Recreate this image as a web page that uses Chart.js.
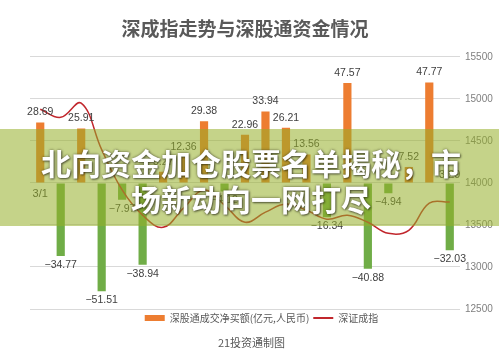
<!DOCTYPE html>
<html>
<head>
<meta charset="utf-8">
<script src="https://cdn.jsdelivr.net/npm/chart.js@4.4.0/dist/chart.umd.min.js"></script>
<style>
html,body{margin:0;padding:0;background:#fff;}
#wrap{position:relative;width:499px;height:358px;overflow:hidden;}
canvas{display:block;}
#band{position:absolute;left:0;top:129px;width:499px;height:97px;background:rgba(150,175,40,0.55);}
#banner{position:absolute;left:0;top:144px;width:502px;text-align:center;color:#fff;
  font-family:"Noto Sans CJK SC","Noto Sans",sans-serif;font-weight:bold;font-size:30px;line-height:36px;
  text-shadow:0 0 3px rgba(60,60,30,0.75),1px 1px 2px rgba(0,0,0,0.5);}
#credit{position:absolute;left:0;top:334px;width:503px;text-align:center;color:#595959;
  font-family:"Noto Sans CJK SC",sans-serif;font-size:11px;line-height:16px;}
</style>
</head>
<body>
<div id="wrap">
  <canvas id="c" width="499" height="358"></canvas>
  <div id="band"></div>
  <div id="banner">北向资金加仓股票名单揭秘，市<br>场新动向一网打尽</div>
  <div id="credit">21投资通制图</div>
</div>
<script>
const chartTitle = '深成指走势与深股通资金情况';
const seriesNames = ['深股通成交净买额(亿元,人民币)', '深证成指'];
const categories = ['3/1','3/2','3/3','3/4','3/5','3/8','3/9','3/10','3/11','3/12','3/15','3/16','3/17','3/18','3/19','3/22','3/23','3/24','3/25','3/26','3/29'];
const netBuy = [28.69,-34.77,25.91,-51.51,-7.97,-38.94,5.27,12.36,29.38,-4.12,22.96,33.94,26.21,13.56,-16.34,47.57,-40.88,-4.94,7.52,47.77,-32.03];
const szIndex = [14876,14780,14948,14396,13916,13616,13472,13700,13916,13736,13532,13652,13748,13676,13568,13616,13532,13400,13436,13760,13772];
const leftTicks = [-60,-40,-20,0,20,40,60];
const rightTicks = [12500,13000,13500,14000,14500,15000,15500];

const ORANGE = '#ed7d31', GREEN = '#70ad47', RED = '#c1272d', GREY = '#595959';

const labelPlugin = {
  id: 'barLabels',
  afterDatasetsDraw(chart) {
    const ctx = chart.ctx;
    const meta = chart.getDatasetMeta(0);
    ctx.save();
    ctx.font = '10.5px "Liberation Sans", Arial, sans-serif';
    ctx.fillStyle = '#404040';
    ctx.textAlign = 'center';
    ctx.textBaseline = 'middle';
    meta.data.forEach((bar, i) => {
      const v = netBuy[i];
      const txt = (v < 0 ? '\u2212' : '') + Math.abs(v).toFixed(2);
      ctx.fillText(txt, bar.x, v >= 0 ? bar.y - 10 : bar.y + 9);
    });
    const xs = chart.scales.x, ys = chart.scales.y;
    const zero = ys.getPixelForValue(0);
    const n = categories.length;
    ctx.font = '11px "Liberation Sans", Arial, sans-serif';
    ctx.fillText(categories[0], xs.getPixelForValue(0), zero + 11);
    ctx.fillText(categories[n - 1], xs.getPixelForValue(n - 1), zero - 8);
    ctx.restore();
  }
};

new Chart(document.getElementById('c'), {
  data: {
    labels: categories,
    datasets: [
      {
        type: 'bar',
        label: seriesNames[0],
        data: netBuy,
        yAxisID: 'y',
        order: 2,
        backgroundColor: netBuy.map(v => v >= 0 ? ORANGE : GREEN),
        barPercentage: 0.4,
        categoryPercentage: 1.0
      },
      {
        type: 'line',
        label: seriesNames[1],
        data: szIndex,
        yAxisID: 'y1',
        order: 1,
        borderColor: RED,
        backgroundColor: RED,
        borderWidth: 1.5,
        pointRadius: 0,
        tension: 0.4,
        fill: false
      }
    ]
  },
  options: {
    responsive: false,
    animation: false,
    layout: { padding: { left: 24, right: 0, top: 0, bottom: 25 } },
    plugins: {
      tooltip: { enabled: false },
      title: {
        display: true,
        text: chartTitle,
        fullSize: false,
        color: GREY,
        font: { family: '"Noto Sans CJK SC", sans-serif', size: 19, weight: 'bold', lineHeight: 1.2 },
        padding: { top: 17, bottom: 17 }
      },
      legend: {
        position: 'bottom',
        labels: {
          usePointStyle: true,
          pointStyleWidth: 20,
          boxWidth: 20,
          boxHeight: 6,
          padding: 4,
          color: GREY,
          font: { family: '"Noto Sans CJK SC", sans-serif', size: 10 },
          generateLabels() {
            return [
              { text: seriesNames[0], fillStyle: ORANGE, strokeStyle: ORANGE, lineWidth: 0, pointStyle: 'rect', hidden: false, datasetIndex: 0, fontColor: GREY },
              { text: seriesNames[1], fillStyle: RED, strokeStyle: RED, lineWidth: 2, pointStyle: 'line', hidden: false, datasetIndex: 1, fontColor: GREY }
            ];
          }
        }
      }
    },
    scales: {
      x: { type: 'category', display: false, offset: true, grid: { display: false } },
      y: {
        position: 'left',
        min: leftTicks[0], max: leftTicks[leftTicks.length - 1],
        afterBuildTicks(s) { s.ticks = leftTicks.map(v => ({ value: v })); },
        afterFit(s) { s.width = 6; },
        ticks: { color: GREY, padding: 8, font: { family: '"Liberation Sans", Arial', size: 11 }, callback: v => String(v) },
        grid: { color: '#d9d9d9', drawTicks: false },
        border: { display: false }
      },
      y1: {
        position: 'right',
        min: rightTicks[0], max: rightTicks[rightTicks.length - 1],
        afterBuildTicks(s) { s.ticks = rightTicks.map(v => ({ value: v })); },
        afterFit(s) { s.width = 39; },
        ticks: { color: '#7f7f7f', padding: 5, font: { family: '"Liberation Sans", Arial', size: 10 }, callback: v => String(v) },
        grid: { display: false, drawTicks: false },
        border: { display: false }
      }
    }
  },
  plugins: [labelPlugin]
});
</script>
</body>
</html>
